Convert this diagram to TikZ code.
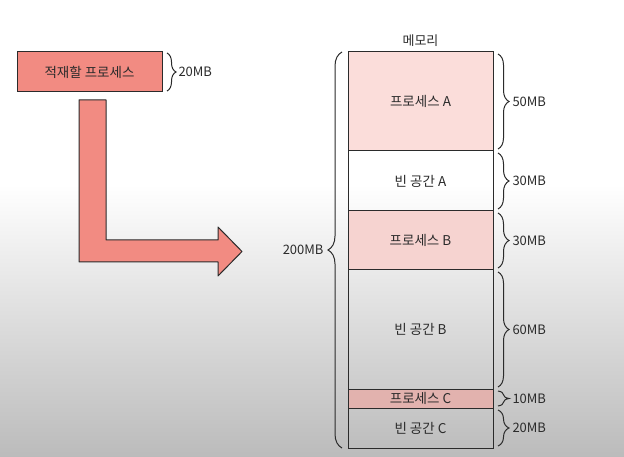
\documentclass[tikz,border=0pt]{standalone}
\usepackage{fontspec}
\setmainfont{Noto Sans CJK KR}
\usetikzlibrary{positioning,calc,decorations.pathreplacing}
\definecolor{salmon}{HTML}{F28B82}
\definecolor{lightproc}{HTML}{FBDDDA}
\definecolor{midproc}{HTML}{F6D3D0}
\definecolor{darkproc}{HTML}{E2B2AE}
\definecolor{bggray}{HTML}{BBBBBB}
\definecolor{inkline}{HTML}{2B2B2B}

\begin{document}
\begin{tikzpicture}[x=1pt,y=-1pt,node distance=0pt,
  mem node/.style={draw=inkline,line width=1pt,minimum width=145pt,inner sep=0pt,outer sep=0pt,
    text=inkline,font=\fontsize{13.5}{15}\selectfont},
  size brace/.style={decorate,decoration={brace,amplitude=#1},draw=inkline,line width=1pt},
  size label/.style={font=\fontsize{13}{15}\selectfont,text=inkline,inner sep=1pt}]

 % background
 \useasboundingbox (0,0) rectangle (624,457);
 \fill[white] (0,0) rectangle (624,186);
 \shade[top color=white,bottom color=bggray] (0,185) rectangle (624,457);

 % process to load
 \node[mem node,fill=salmon,minimum height=40pt] (proc) at (89.5,72) {적재할 프로세스};
 \draw[size brace=9pt] ($(proc.north east)+(5,1)$) -- ($(proc.south east)+(5,-1)$)
   node[size label,midway,anchor=west,xshift=10pt] (lproc) {20MB};

 % arrow
 \draw[inkline,line width=1pt,fill=salmon,line join=round]
   (79,100) -- (106,100) -- (106,240) -- (218,240) -- (218,227) -- (242,251.5)
   -- (218,276) -- (218,262) -- (79,262) -- cycle;

 % memory
 \node[mem node,fill=lightproc,minimum height=99pt,anchor=north] (pA) at (420.5,52) {프로세스 A};
 \node[mem node,minimum height=60pt] (hA) [below=of pA] {빈 공간 A};
 \node[mem node,fill=midproc,minimum height=59pt] (pB) [below=of hA] {프로세스 B};
 \node[mem node,minimum height=119pt] (hB) [below=of pB] {빈 공간 B};
 \node[mem node,fill=darkproc,minimum height=19pt] (pC) [below=of hB] {프로세스 C};
 \node[mem node,minimum height=40pt] (hC) [below=of pC] {빈 공간 C};
 \node[size label] (mem) [above=4pt of pA] {메모리};

 % sizes
 \foreach \blk/\sz in {pA/50MB,hA/30MB,pB/30MB,hB/60MB,pC/10MB,hC/20MB}
   \draw[size brace=11pt] ($(\blk.north east)+(5,2)$) -- ($(\blk.south east)+(5,-2)$)
     node[size label,midway,anchor=west,xshift=13pt] (l\blk) {\sz};

 \draw[size brace=14pt] ($(hC.south west)+(-6,0)$) -- ($(pA.north west)+(-6,0)$)
   node[size label,midway,anchor=east,xshift=-17pt] (ltotal) {200MB};

\end{tikzpicture}
\end{document}
